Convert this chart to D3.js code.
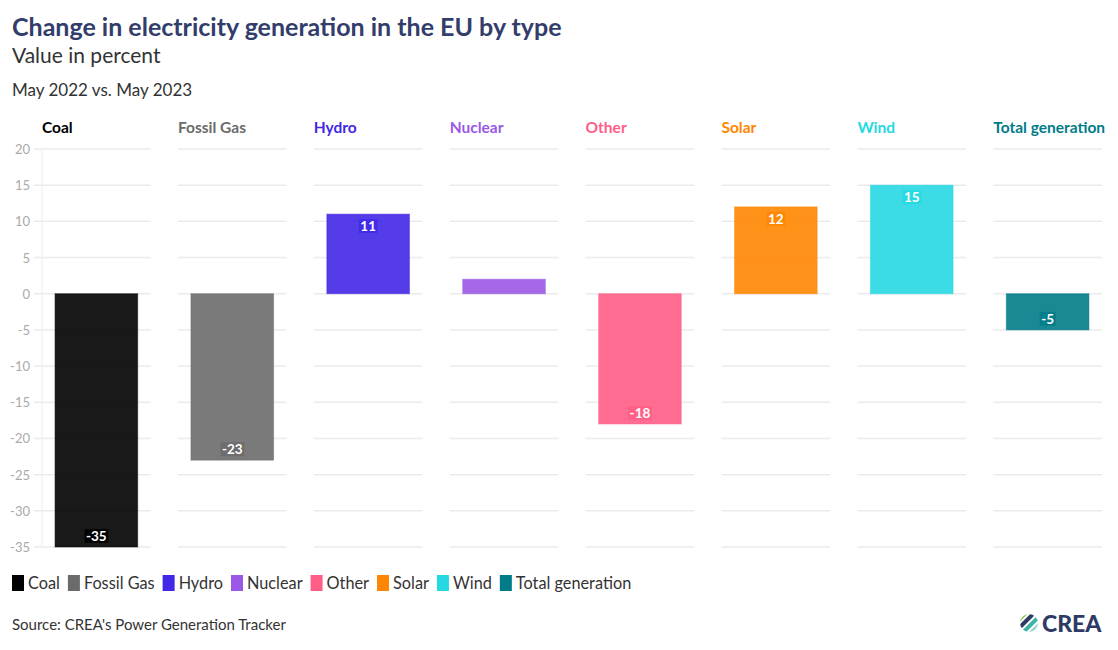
<!DOCTYPE html>
<html>
<head>
<meta charset="utf-8">
<script src="https://cdn.jsdelivr.net/npm/d3@7"></script>
<style>
  body { margin: 0; background: #fff; }
  svg { font-family: "Lato", "Open Sans", sans-serif; }
</style>
</head>
<body>
<svg id="chart" width="1118" height="650"></svg>
<script>
// --- data ---
const categories = ["Coal", "Fossil Gas", "Hydro", "Nuclear", "Other", "Solar", "Wind", "Total generation"];
const values = [-35, -23, 11, 2, -18, 12, 15, -5];
const colors = ["#000000", "#6b6b6b", "#4128e6", "#9a58e6", "#ff5e86", "#ff8600", "#26d8e2", "#007c88"];
const yTicks = [20, 15, 10, 5, 0, -5, -10, -15, -20, -25, -30, -35];

const svg = d3.select("#chart");
const plotTop = 149, plotBottom = 547;
const defs = svg.append("defs");

// header
svg.append("text").attr("x", 12).attr("y", 36)
    .style("font-size", "25px").style("font-weight", 700).style("fill", "#323d6b")
    .text("Change in electricity generation in the EU by type");
svg.append("text").attr("x", 12).attr("y", 63)
    .style("font-size", "21px").style("fill", "#333")
    .text("Value in percent");
svg.append("text").attr("x", 12).attr("y", 96)
    .style("font-size", "17px").style("fill", "#333")
    .text("May 2022 vs. May 2023");

const panel = d3.scaleBand().domain(categories).range([42, 1102]).paddingInner(0.2).paddingOuter(0);
const y = d3.scaleLinear().domain([-35, 20]).range([plotBottom, plotTop]);

// y axis labels (only once, at left)
svg.append("line").attr("x1", 42).attr("x2", 42).attr("y1", plotTop).attr("y2", plotBottom)
    .attr("stroke", "#ececec").attr("stroke-width", 1);
svg.selectAll(".ytick").data(yTicks).join("text")
    .attr("class", "ytick")
    .attr("x", 30).attr("y", d => y(d) + 5)
    .attr("text-anchor", "end")
    .style("font-size", "13px").style("fill", "#aaa")
    .text(d => d);

categories.forEach((cat, i) => {
    const g = svg.append("g").attr("transform", `translate(${panel(cat)},0)`);
    const bw = panel.bandwidth();
    const inner = d3.scaleBand().domain([cat]).range([0, bw]).paddingInner(0.24).paddingOuter(0.12);

    g.selectAll(".grid").data(yTicks).join("line")
        .attr("x1", i === 0 ? -8 : 0).attr("x2", bw)
        .attr("y1", d => y(d)).attr("y2", d => y(d))
        .attr("stroke", "#ebebeb").attr("stroke-width", 1.5);

    // panel titles get cut at the panel edge (last one overflows)
    defs.append("clipPath").attr("id", `pc${i}`)
        .append("rect").attr("x", 0).attr("y", 110).attr("width", bw + 4).attr("height", 30);
    g.append("text").attr("x", 0).attr("y", 133)
        .attr("clip-path", `url(#pc${i})`)
        .style("font-size", "15.5px").style("font-weight", 700).style("fill", colors[i])
        .text(cat);

    const v = values[i];
    g.append("rect")
        .attr("x", inner(cat)).attr("width", inner.bandwidth())
        .attr("y", y(Math.max(0, v))).attr("height", Math.abs(y(v) - y(0)))
        .attr("fill", colors[i]).attr("fill-opacity", 0.9)
        .attr("stroke", colors[i]).attr("stroke-opacity", 0.5);

    if (Math.abs(v) >= 5) {
        const cx = inner(cat) + inner.bandwidth() / 2;
        const cy = v > 0 ? y(v) + 12 : y(v) - 11;
        const lbl = g.append("g");
        const t = lbl.append("text").attr("x", cx).attr("y", cy + 5)
            .attr("text-anchor", "middle")
            .style("font-size", "13.5px").style("font-weight", 700).style("fill", "#fff")
            .text(v);
        const bb = t.node().getBBox();
        lbl.insert("rect", "text")
            .attr("x", bb.x - 1.5).attr("y", bb.y + 1).attr("width", bb.width + 3).attr("height", bb.height - 2)
            .attr("fill", colors[i]).attr("fill-opacity", 0.85);
    }
});

// legend
let lx = 12;
categories.forEach((cat, i) => {
    svg.append("rect").attr("x", lx).attr("y", 575).attr("width", 12).attr("height", 16).attr("fill", colors[i]);
    const t = svg.append("text").attr("x", lx + 16).attr("y", 589)
        .style("font-size", "16.3px").style("fill", "#333").text(cat);
    lx += 16 + t.node().getComputedTextLength() + 8;
});

// source
svg.append("text").attr("x", 12).attr("y", 630)
    .style("font-size", "15px").style("fill", "#333")
    .text("Source: CREA's Power Generation Tracker");

// CREA logo
const logo = svg.append("g").attr("transform", "translate(1029,623)");
defs.append("clipPath").attr("id", "lc").append("circle").attr("r", 9);
const stripes = logo.append("g").attr("clip-path", "url(#lc)");
[["#7cc242", -9], ["#2f3a64", -3], ["#3bb3a8", 3], ["#8fd3cc", 9]].forEach(([c, o]) => {
    stripes.append("rect").attr("x", -14).attr("y", o - 2.5).attr("width", 28).attr("height", 4)
        .attr("fill", c).attr("transform", "rotate(-45)");
});
logo.append("text").attr("x", 13).attr("y", 8.5)
    .style("font-size", "23px").style("font-weight", 900).style("fill", "#2f3a64")
    .text("CREA");
</script>
</body>
</html>
